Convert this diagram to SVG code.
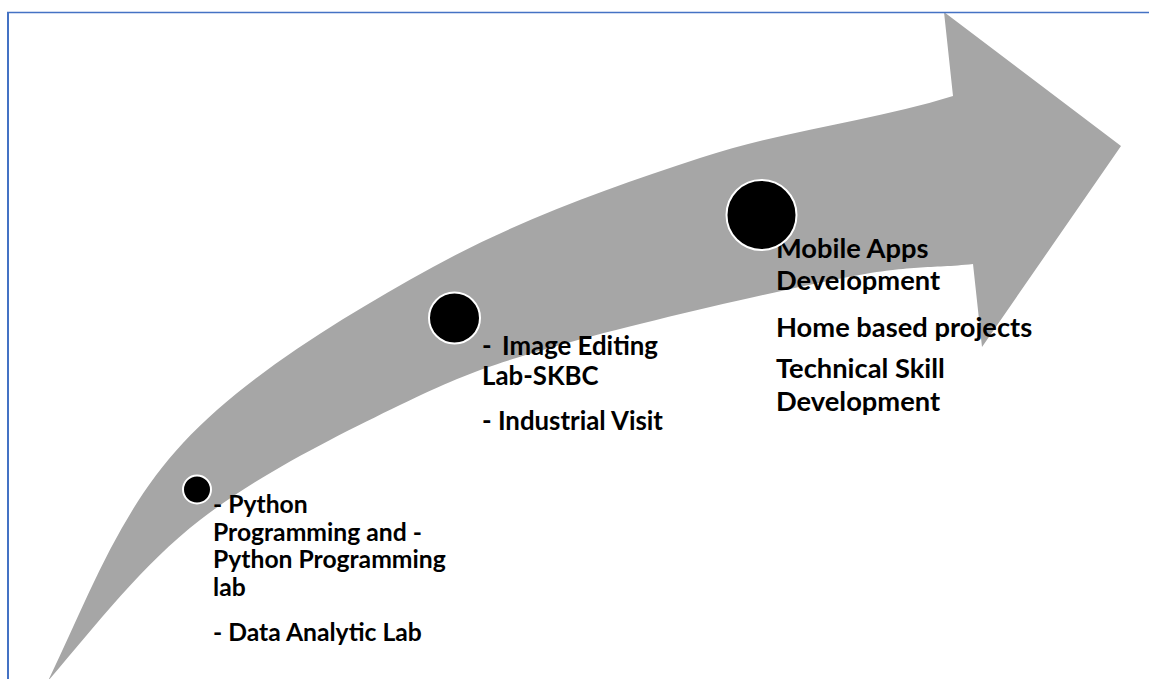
<svg xmlns="http://www.w3.org/2000/svg" width="1149" height="679" viewBox="0 0 1149 679">
  <style>
    .lbl { font-family: Lato, "Open Sans", "Liberation Sans", sans-serif; font-weight: 700; fill: #000000; }
    .g1 { font-size: 24.7px; }
    .g2 { font-size: 25.8px; }
    .g3 { font-size: 27.3px; }
    .dot { fill: #000000; stroke: #FFFFFF; stroke-width: 2; }
    .frame { stroke: #4472C4; fill: none; }
  </style>
  <rect x="0" y="0" width="1149" height="679" fill="#FFFFFF"/>
  <g id="connectors">
    <path id="timeline-arrow" fill="#A6A6A6" d="M48,681 C88,598 118.8,511.7 183,443 C247.2,374.3 346.8,314.5 433,267 C519.2,219.5 613.3,186.5 700,158 C786.7,129.5 869.3,122 953,96 L944,12 L1121,146 L982,347 L973,264 C929.7,268.7 911.8,264.5 843,278 C774.2,291.5 633.8,323.8 560,345 C486.2,366.2 460,375.8 400,405 C340,434.2 258.7,474.3 200,520 C141.3,565.7 97,624 48,681 Z"/>
  </g>
  <g id="frame">
    <line class="frame" x1="7" y1="12.5" x2="1149" y2="12.5" stroke-width="1.3"/>
    <line class="frame" x1="8" y1="12" x2="8" y2="679" stroke-width="2"/>
  </g>
  <g id="node1">
    <text class="lbl g1" x="213" y="513">- Python</text>
    <text class="lbl g1" x="213" y="540.5">Programming and -</text>
    <text class="lbl g1" x="213" y="568">Python Programming</text>
    <text class="lbl g1" x="213" y="595.5">lab</text>
    <text class="lbl g1" x="213" y="640.5">- Data Analytic Lab</text>
    <circle class="dot" cx="197" cy="489.5" r="14"/>
  </g>
  <g id="node2">
    <text class="lbl g2" x="482" y="354.5"><tspan>-</tspan><tspan x="502">Image Editing</tspan></text>
    <text class="lbl g2" x="482" y="384.5">Lab-SKBC</text>
    <text class="lbl g2" x="482" y="430">- Industrial Visit</text>
    <circle class="dot" cx="454.5" cy="318" r="25.5"/>
  </g>
  <g id="node3">
    <text class="lbl g3" x="776" y="258.3">Mobile Apps</text>
    <text class="lbl g3" x="776" y="290">Development</text>
    <text class="lbl g3" x="776" y="336.7">Home based projects</text>
    <text class="lbl g3" x="776" y="378.3">Technical Skill</text>
    <text class="lbl g3" x="776" y="410.5">Development</text>
    <circle class="dot" cx="761.5" cy="215" r="35"/>
  </g>
</svg>
